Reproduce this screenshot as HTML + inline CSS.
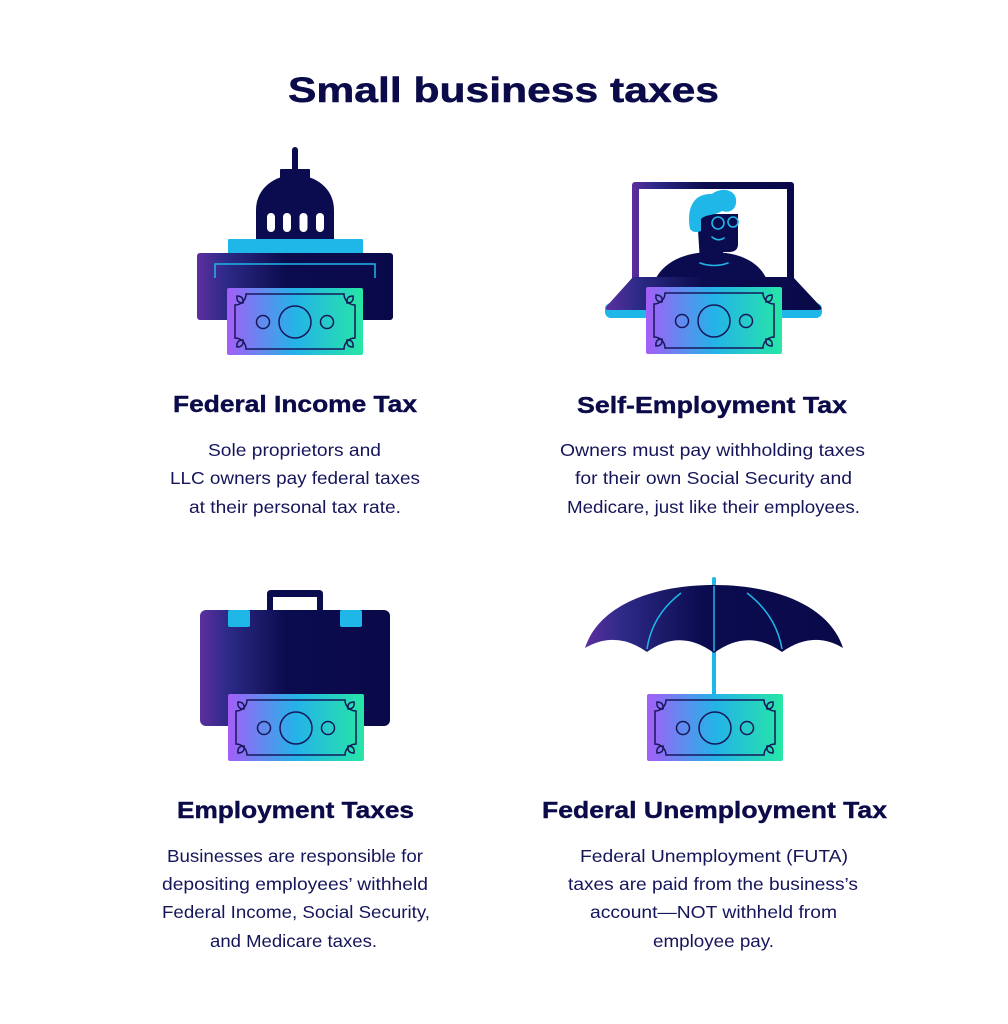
<!DOCTYPE html>
<html>
<head>
<meta charset="utf-8">
<style>
  html,body{margin:0;padding:0;background:#ffffff;}
  svg{display:block;}
  .t{font-family:"Liberation Sans",sans-serif;font-weight:bold;fill:#0b0b4a;}
  .h{font-family:"Liberation Sans",sans-serif;font-weight:bold;fill:#0b0b4a;font-size:23.5px;stroke:#0b0b4a;stroke-width:0.4;}
  .b{font-family:"Liberation Sans",sans-serif;fill:#15155a;font-size:17.5px;}
</style>
</head>
<body>
<svg width="1008" height="1024" viewBox="0 0 1008 1024" xmlns="http://www.w3.org/2000/svg">
  <defs>
    <linearGradient id="billG" x1="0" y1="0" x2="1" y2="0">
      <stop offset="0" stop-color="#a45ef7"/>
      <stop offset="0.5" stop-color="#24b3e8"/>
      <stop offset="1" stop-color="#27e6a6"/>
    </linearGradient>
    <linearGradient id="darkG" x1="0" y1="0" x2="1" y2="0">
      <stop offset="0" stop-color="#5c2f9f"/>
      <stop offset="0.15" stop-color="#2c2a86"/>
      <stop offset="0.45" stop-color="#0b0c4f"/>
      <stop offset="1" stop-color="#09094a"/>
    </linearGradient>
    <g id="bill">
      <rect x="0" y="0" width="136" height="67" rx="2" fill="url(#billG)"/>
      <g fill="none" stroke="#17175a" stroke-width="1.5">
        <path d="M19,6 L117,6 A11,11 0 0 0 128,17 L128,50 A11,11 0 0 0 117,61 L19,61 A11,11 0 0 0 8,50 L8,17 A11,11 0 0 0 19,6 Z"/>
        <path d="M10,8 Q17,8 16,15 Q9,15 10,8 Z"/>
        <path d="M126,8 Q119,8 120,15 Q127,15 126,8 Z"/>
        <path d="M10,59 Q17,59 16,52 Q9,52 10,59 Z"/>
        <path d="M126,59 Q119,59 120,52 Q127,52 126,59 Z"/>
        <circle cx="68" cy="34" r="16"/>
        <circle cx="36" cy="34" r="6.5"/>
        <circle cx="100" cy="34" r="6.5"/>
      </g>
    </g>
  </defs>

  <rect width="1008" height="1024" fill="#ffffff"/>

  <!-- Title -->
  <text class="t" x="288" y="102" font-size="35" textLength="431" lengthAdjust="spacingAndGlyphs" stroke="#0b0b4a" stroke-width="0.5">Small business taxes</text>

  <!-- ===== Capitol icon ===== -->
  <rect x="292" y="147" width="6" height="30" rx="3" fill="#0b0c4f"/>
  <rect x="280" y="169" width="30" height="16" rx="1" fill="#0b0c4f"/>
  <path d="M256,240 L256,210 C256,188 275,175 295,175 C315,175 334,188 334,210 L334,240 Z" fill="#0b0c4f"/>
  <rect x="267" y="213" width="8" height="19" rx="4" fill="#ffffff"/>
  <rect x="283" y="213" width="8" height="19" rx="4" fill="#ffffff"/>
  <rect x="299.5" y="213" width="8" height="19" rx="4" fill="#ffffff"/>
  <rect x="316" y="213" width="8" height="19" rx="4" fill="#ffffff"/>
  <rect x="228" y="239" width="135" height="15" rx="1" fill="#1eb7e8"/>
  <rect x="197" y="253" width="196" height="67" rx="3" fill="url(#darkG)"/>
  <path d="M215,278 L215,264 L375,264 L375,278" fill="none" stroke="#1eb7e8" stroke-width="1.5"/>
  <use href="#bill" x="227" y="288"/>

  <!-- ===== Laptop icon ===== -->
  <rect x="632" y="182" width="162" height="100" rx="3" fill="url(#darkG)"/>
  <rect x="639" y="189" width="148" height="93" fill="#ffffff"/>
  <!-- person -->
  <path d="M655,280 C665,259 690,252 711,252 C735,252 758,259 767,280 Z" fill="#0b0c4f"/>
  <path d="M697,214 L738,214 L738,244 Q738,252 729,252 L723,252 L723,262 L700,262 Z" fill="#0b0c4f"/>
  <path d="M690,229 C686,206 695,193 712,194 C722,186 738,190 736,203 C735,211 728,213 722,211 C714,216 706,214 701,219 L701,231 Q694,234 690,229 Z" fill="#1eb7e8"/>
  <circle cx="718" cy="223" r="6" fill="none" stroke="#1eb7e8" stroke-width="1.6"/>
  <circle cx="733" cy="222" r="5" fill="none" stroke="#1eb7e8" stroke-width="1.6"/>
  <path d="M712,237 Q718,242 724,238" fill="none" stroke="#1eb7e8" stroke-width="1.6" stroke-linecap="round"/>
  <path d="M700,263 Q714,268 728,263" fill="none" stroke="#1eb7e8" stroke-width="1.6" stroke-linecap="round"/>
  <!-- base -->
  <rect x="605" y="303" width="217" height="15" rx="6" fill="#1eb7e8"/>
  <path d="M633,277 L793,277 L821,307 Q822,310 818,310 L609,310 Q605,310 606,307 Z" fill="url(#darkG)"/>
  <use href="#bill" x="646" y="287"/>

  <!-- ===== Briefcase icon ===== -->
  <path d="M267,612 L267,594 Q267,590 271,590 L319,590 Q323,590 323,594 L323,612 L317,612 L317,597 L273,597 L273,612 Z" fill="#0b0c4f"/>
  <rect x="200" y="610" width="190" height="116" rx="6" fill="url(#darkG)"/>
  <rect x="228" y="610" width="22" height="17" rx="2" fill="#1eb7e8"/>
  <rect x="340" y="610" width="22" height="17" rx="2" fill="#1eb7e8"/>
  <use href="#bill" x="228" y="694"/>

  <!-- ===== Umbrella icon ===== -->
  <rect x="712" y="577" width="4" height="120" rx="2" fill="#1eb7e8"/>
  <path d="M585,648 C598,607 650,585 714,585 C778,585 830,607 843,648 Q813,630 782,652 Q748,628 714,653 Q680,628 647,652 Q616,630 585,648 Z" fill="url(#darkG)"/>
  <path d="M681,593 Q652,615 647,649" fill="none" stroke="#1eb7e8" stroke-width="1.5"/>
  <path d="M747,593 Q776,615 782,649" fill="none" stroke="#1eb7e8" stroke-width="1.5"/>
  <line x1="714" y1="586" x2="714" y2="651" stroke="#1eb7e8" stroke-width="1.5"/>
  <use href="#bill" x="647" y="694"/>

  <!-- ===== Headings ===== -->
  <text class="h" x="173" y="412" textLength="244" lengthAdjust="spacingAndGlyphs">Federal Income Tax</text>
  <text class="h" x="577" y="413" textLength="270" lengthAdjust="spacingAndGlyphs">Self-Employment Tax</text>
  <text class="h" x="177" y="818" textLength="237" lengthAdjust="spacingAndGlyphs">Employment Taxes</text>
  <text class="h" x="542" y="818" textLength="345" lengthAdjust="spacingAndGlyphs">Federal Unemployment Tax</text>

  <!-- ===== Body text ===== -->
  <text class="b" x="208" y="456" textLength="173" lengthAdjust="spacingAndGlyphs">Sole proprietors and</text>
  <text class="b" x="170" y="484" textLength="250" lengthAdjust="spacingAndGlyphs">LLC owners pay federal taxes</text>
  <text class="b" x="189" y="513" textLength="212" lengthAdjust="spacingAndGlyphs">at their personal tax rate.</text>

  <text class="b" x="560" y="456" textLength="305" lengthAdjust="spacingAndGlyphs">Owners must pay withholding taxes</text>
  <text class="b" x="575" y="484" textLength="277" lengthAdjust="spacingAndGlyphs">for their own Social Security and</text>
  <text class="b" x="567" y="513" textLength="293" lengthAdjust="spacingAndGlyphs">Medicare, just like their employees.</text>

  <text class="b" x="167" y="862" textLength="256" lengthAdjust="spacingAndGlyphs">Businesses are responsible for</text>
  <text class="b" x="162" y="890" textLength="266" lengthAdjust="spacingAndGlyphs">depositing employees’ withheld</text>
  <text class="b" x="162" y="918" textLength="268" lengthAdjust="spacingAndGlyphs">Federal Income, Social Security,</text>
  <text class="b" x="210" y="947" textLength="167" lengthAdjust="spacingAndGlyphs">and Medicare taxes.</text>

  <text class="b" x="580" y="862" textLength="268" lengthAdjust="spacingAndGlyphs">Federal Unemployment (FUTA)</text>
  <text class="b" x="568" y="890" textLength="290" lengthAdjust="spacingAndGlyphs">taxes are paid from the business’s</text>
  <text class="b" x="590" y="918" textLength="247" lengthAdjust="spacingAndGlyphs">account—NOT withheld from</text>
  <text class="b" x="653" y="947" textLength="121" lengthAdjust="spacingAndGlyphs">employee pay.</text>
</svg>
</body>
</html>
